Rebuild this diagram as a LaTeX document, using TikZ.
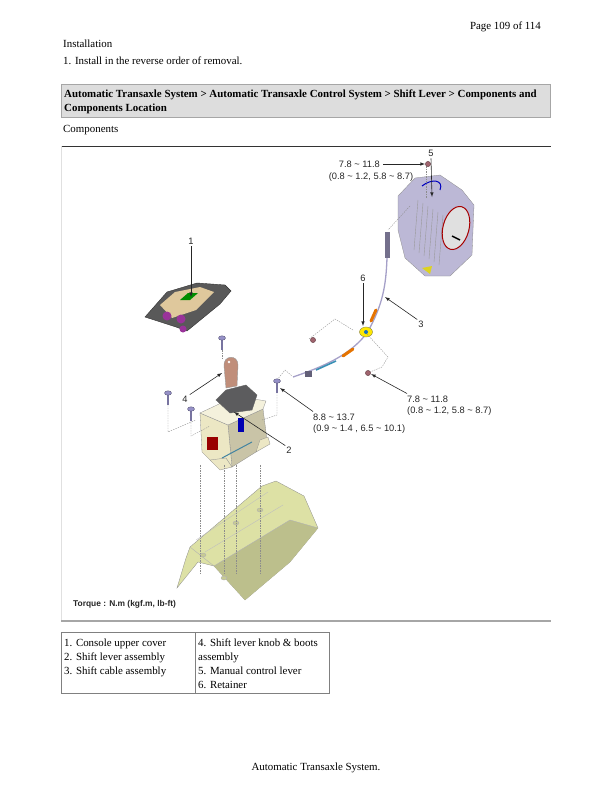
\documentclass[tikz,border=0pt]{standalone}
\usepackage{fontspec}
\setmainfont{Liberation Serif}
\newfontfamily\lblfont{Liberation Sans}
\usetikzlibrary{positioning}
\definecolor{hdrgray}{RGB}{221,221,221}
\definecolor{panelc}{RGB}{221,225,165}
\definecolor{basec}{RGB}{236,231,196}
\definecolor{knobc}{RGB}{192,142,122}
\definecolor{bootc}{RGB}{92,92,94}
\definecolor{axlec}{RGB}{188,184,214}
\definecolor{cablec}{RGB}{165,160,200}
\definecolor{boltc}{RGB}{150,145,200}
\definecolor{nutc}{RGB}{160,100,110}
\newcommand{\bodyfont}{\fontsize{10.9}{13}\selectfont}

\begin{document}
\begin{tikzpicture}[x=1pt, y=-1pt, >=latex,
	every node/.style={inner sep=0pt},
	txt/.style={anchor=base west, font=\bodyfont},
	lbl/.style={font=\lblfont\fontsize{9.3}{11}\selectfont, text=black!85},
	callout/.style={->, black!85, line width=0.6pt},
	hidden/.style={black!45, line width=0.35pt, dash pattern=on 1.5pt off 1pt},
	part/.style={draw=black!45, line width=0.3pt}]
\useasboundingbox (0,0) rectangle (612,792);

% page text
\node[txt, anchor=base east] (page) at (541,30) {Page 109 of 114};
\node[txt] (inst) at (63,48) {Installation};
\node[txt] (step1) at (63,65) {1. Install in the reverse order of removal.};
\draw[black!35, fill=hdrgray] (61,84) rectangle (550,117);
\node[txt, font=\bodyfont\bfseries] (hdr1) at (64,97) {Automatic Transaxle System > Automatic Transaxle Control System > Shift Lever > Components and};
\node[txt, font=\bodyfont\bfseries] (hdr2) at (64,111) {Components Location};
\node[txt] (comp) at (63,132) {Components};

% figure frame
\draw[black!80, line width=1pt] (61,146) -- (551,146);
\draw[black!12, line width=0.6pt] (61,146) -- (61,621);
\draw[black!35, line width=1.3pt] (61,621) -- (551,621);

% floor panel
\filldraw[fill=panelc, part] (177,588) -- (186,558) -- (190,547) -- (262,486) -- (276,481) -- (304,496) -- (318,528) -- (290,562) -- (245,600) -- (214,566) -- (198,562) -- cycle;
\fill[panelc!85!black] (214,566) -- (290,520) -- (318,528) -- (290,562) -- (245,600) -- cycle;
\draw[black!30] (190,547) -- (214,566) -- (290,520) -- (318,528);
\draw[black!25] (196,540) -- (268,492) (205,552) -- (283,505);
\foreach \x/\y in {203/555,224/578,236/523,260/510} \filldraw[fill=panelc!90!black, draw=black!30] (\x,\y) ellipse (3 and 2);

% shift lever assembly
\filldraw[fill=basec!85!black, part] (228,425) -- (263,409) -- (267,440) -- (256,452) -- (232,467) -- cycle;
\filldraw[fill=basec, part] (200,413) -- (228,425) -- (232,467) -- (212,462) -- (202,452) -- cycle;
\filldraw[fill=basec!60!white, part] (200,413) -- (236,396) -- (266,401) -- (263,409) -- (228,425) -- cycle;
\filldraw[fill=basec, part] (210,460) -- (220,470) -- (232,467) -- (226,458) -- cycle;
\filldraw[fill=basec, part] (256,452) -- (270,444) -- (268,437) -- (260,440) -- cycle;
\fill[red!60!black] (207,437) rectangle (218,450);
\fill[blue!70!black] (238,418) rectangle (244,432);
\draw[cyan!60!black, line width=1pt] (222,458) -- (252,442);
\filldraw[fill=bootc, draw=black!60] (216,400) -- (226,390) -- (246,385) -- (257,395) -- (252,410) -- (230,413) -- cycle;
\filldraw[fill=knobc, draw=black!40] (226,388) -- (224,366) .. controls (223,355) and (238,354) .. (238,365) -- (237,386) -- cycle;
\fill[white] (229,362) circle (1.3);

% console upper cover
\filldraw[fill=black!65, draw=black!80] (145,317) -- (167,292) -- (197,283) -- (225,285) -- (231,291) -- (220,304) -- (187,331) -- (176,327) -- cycle;
\fill[basec!70!brown] (160,305) -- (175,292) -- (200,287) -- (214,292) -- (196,310) -- (172,318) -- cycle;
\fill[green!55!black] (180,300) -- (188,293) -- (198,293) -- (190,300) -- cycle;
\fill[violet!80] (167,316) circle (4.5) (181,319) circle (4.5) (183,329) circle (3.5);

% transaxle
\filldraw[fill=axlec, part] (398,196) -- (415,178) -- (440,175) -- (462,190) -- (474,205) -- (472,255) -- (450,276) -- (425,276) -- (405,258) -- (398,230) -- cycle;
\foreach \k in {0,...,5} \draw[black!40] (418+\k*5,200+\k*3) -- (414+\k*5,250+\k*3);
\filldraw[fill=black!12, draw=red!65!black, line width=1pt, rotate around={-15:(456,228)}] (456,228) ellipse (13 and 22);
\draw[black, line width=1.5pt] (452,236) -- (460,240);
\draw[blue!75!black, line width=1pt] (422,186) .. controls (432,178) and (444,180) .. (440,190);
\fill[yellow!85!black] (422,268) -- (432,266) -- (430,274) -- cycle;

% shift cable
\fill[cablec!70!black] (385,232) rectangle (390,258);
\draw[cablec, line width=1.3pt] (387,258) .. controls (386,285) and (383,305) .. (367,333) .. controls (350,355) and (325,366) .. (293,377);
\draw[orange!90!black, line width=3pt, line cap=round] (371,321) -- (376,310) (343,356) -- (353,349);
\draw[cyan!70!black, line width=1.6pt] (316,370) -- (336,361);
\fill[cablec!60!black] (305,371) rectangle (312,377);
\filldraw[fill=yellow!90!orange, draw=yellow!50!black] (366,332) ellipse (6.5 and 5);
\fill[cyan!50!blue] (366,332) circle (2);

% hidden lines
\draw[hidden] (426,166) -- (426,198);
\draw[hidden] (410,206) -- (388,230);
\draw[hidden] (309,339) -- (335,319) -- (353,330);
\draw[hidden] (367,334) -- (388,357) -- (382,367) -- (370,372);
\draw[hidden] (277,380) -- (285,370) -- (292,376);
\draw[hidden] (168,405) -- (168,432) -- (196,420);
\draw[hidden] (191,420) -- (191,436) -- (210,426);
\draw[hidden] (277,392) -- (277,415) -- (262,420);
\draw[hidden] (222,350) -- (222,358);
\foreach \x in {200,224,236,260} \draw[hidden] (\x,465) -- (\x,575);

% bolts and nuts
\foreach \x/\y in {222/338,168/393,191/409,277/381} {
	\draw[boltc!80!black, line width=1.8pt] (\x,\y) -- (\x,\y+12);
	\filldraw[fill=boltc, draw=boltc!60!black] (\x,\y) ellipse (3.5 and 2.2);
}
\foreach \x/\y in {428/164,313/340,368/373} \filldraw[fill=nutc, draw=nutc!60!black] (\x,\y) circle (2.6);

% labels
\coordinate (nut5) at (425,164);
\coordinate (p5) at (432,197);
\coordinate (p1) at (191,297);
\coordinate (p6) at (363,326);
\coordinate (p3) at (385,297);
\coordinate (p4) at (222,373);
\coordinate (p2) at (234,412);
\coordinate (p8) at (280,388);
\coordinate (nut7) at (371,374);
\node[lbl] (c5) at (431,153) {5};
\node[lbl, anchor=east] (t5a) at (380,164) {7.8 \textasciitilde{} 11.8};
\node[lbl] (t5b) at (371,177) {(0.8 \textasciitilde{} 1.2, 5.8 \textasciitilde{} 8.7)};
\node[lbl] (c1) at (191,241) {1};
\node[lbl] (c6) at (363,278) {6};
\node[lbl] (c3) at (421,324) {3};
\node[lbl] (c4) at (185,399) {4};
\node[lbl] (c2) at (289,450) {2};
\node[lbl, anchor=west] (t7a) at (407,399) {7.8 \textasciitilde{} 11.8};
\node[lbl, anchor=west] (t7b) at (407,411) {(0.8 \textasciitilde{} 1.2, 5.8 \textasciitilde{} 8.7)};
\node[lbl, anchor=west] (t8a) at (313,417) {8.8 \textasciitilde{} 13.7};
\node[lbl, anchor=west] (t8b) at (313,429) {(0.9 \textasciitilde{} 1.4 , 6.5 \textasciitilde{} 10.1)};
\node[lbl, anchor=west, font=\lblfont\bfseries\fontsize{8.4}{10}\selectfont] (torque) at (73,604) {Torque : N.m (kgf.m, lb-ft)};
\draw[callout] (t5a.east) ++(3,0) -- (nut5);
\draw[callout] (c5.south) ++(0,2) -- (p5);
\draw[callout] (c1.south) ++(0,2) -- (p1);
\draw[callout] (c6.south) ++(0,2) -- (p6);
\draw[callout] (c3.north west) ++(-1,-1) -- (p3);
\draw[callout] (c4.north east) ++(2,-1) -- (p4);
\draw[callout] (c2.north west) ++(-1,-1) -- (p2);
\draw[callout] (t8a.north west) ++(0,-2) -- (p8);
\draw[callout] (t7a.north west) ++(0,-2) -- (nut7);

% parts table
\draw[black!50, line width=0.8pt] (61,632) rectangle (329,693);
\draw[black!50, line width=0.8pt] (195,632) -- (195,693);
\node[txt] (r1) at (64,646) {1. Console upper cover};
\node[txt] (r2) at (64,660) {2. Shift lever assembly};
\node[txt] (r3) at (64,674) {3. Shift cable assembly};
\node[txt] (r4) at (198,646) {4. Shift lever knob \& boots};
\node[txt] (r4b) at (198,660) {assembly};
\node[txt] (r5) at (198,674) {5. Manual control lever};
\node[txt] (r6) at (198,688) {6. Retainer};

\node[txt, anchor=base] (foot) at (316,770) {Automatic Transaxle System.};
\end{tikzpicture}
\end{document}
